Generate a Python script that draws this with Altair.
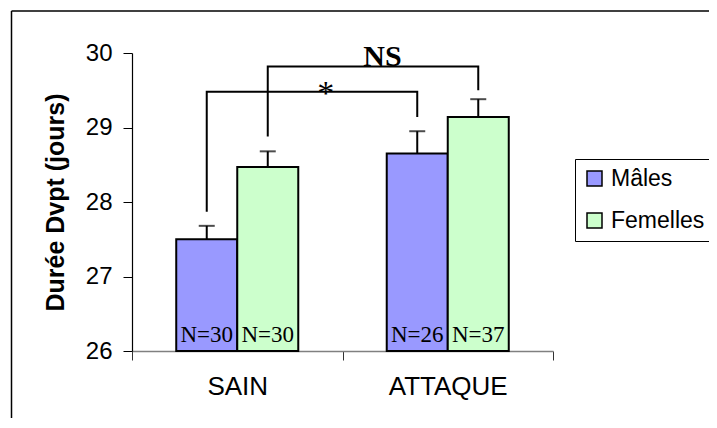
import altair as alt
import pandas as pd

# ---- data ----
categories = ["SAIN", "ATTAQUE"]
series = ["Mâles", "Femelles"]
means_males = [27.50, 28.65]
means_females = [28.47, 29.14]
err_males = [0.18, 0.30]
err_females = [0.21, 0.24]
n_males = [30, 26]
n_females = [30, 37]
colors = ["#9999FF", "#CCFFCC"]

# significance brackets: label, series of both ends, left low end, top, right low end
bracket_labels = ["*", "NS"]
bracket_series = ["Mâles", "Femelles"]
bracket_left_low = [27.87, 28.88]
bracket_top = [29.48, 29.82]
bracket_right_low = [29.14, 29.50]

# ---- tables ----
rows = []
for i, c in enumerate(categories):
    for s, m, e, n in ((series[0], means_males, err_males, n_males),
                       (series[1], means_females, err_females, n_females)):
        rows.append({"cat": c, "sex": s, "mean": m[i], "upper": m[i] + e[i], "n": f"N={n[i]}"})
df = pd.DataFrame(rows)

brows = []
for b, s, lo, top, ro in zip(bracket_labels, bracket_series, bracket_left_low, bracket_top, bracket_right_low):
    brows += [
        {"b": b, "cat": categories[0], "sex": s, "y": lo, "i": 0},
        {"b": b, "cat": categories[0], "sex": s, "y": top, "i": 1},
        {"b": b, "cat": categories[1], "sex": s, "y": top, "i": 2},
        {"b": b, "cat": categories[1], "sex": s, "y": ro, "i": 3},
    ]
bdf = pd.DataFrame(brows)

star_df = pd.DataFrame([{"cat": categories[0], "y": bracket_top[0], "t": bracket_labels[0]}])
ns_df = pd.DataFrame([{"cat": categories[1], "y": bracket_top[1], "t": bracket_labels[1]}])

# ---- shared encodings ----
x_scale = alt.Scale(domain=categories, paddingInner=0, paddingOuter=0)
x_axis = alt.Axis(title=None, tickBand="extent", grid=False, labelFont="Liberation Sans", labelFontSize=26,
                  labelColor="black", labelPadding=13, tickSize=9, tickColor="#333333",
                  domainColor="#808080", domainWidth=1.5, labelAngle=0)
X = alt.X("cat:N", sort=categories, scale=x_scale, axis=x_axis)
XO = alt.XOffset("sex:N", sort=series, scale=alt.Scale(domain=series, paddingInner=0, paddingOuter=0.725))
y_scale = alt.Scale(domain=[26, 30], nice=False, zero=False)
y_axis = alt.Axis(values=[26, 27, 28, 29, 30], format="d", title="Durée Dvpt (jours)", grid=False,
                  labelFont="Liberation Sans", labelFontSize=24, labelColor="black", labelPadding=11,
                  tickSize=9, tickColor="black", domainColor="black", domainWidth=1.2,
                  titleFont="Liberation Sans", titleFontSize=25, titleFontWeight="bold",
                  titleColor="black", titlePadding=17)

def Y(field):
    return alt.Y(field, scale=y_scale, axis=y_axis)

base = alt.Chart(df)

bars = base.mark_bar(stroke="black", strokeWidth=2).encode(
    x=X, xOffset=XO, y=Y("mean:Q"), y2=alt.datum(26),
    fill=alt.Fill("sex:N", sort=series, scale=alt.Scale(domain=series, range=colors),
                  legend=alt.Legend(title=None, orient="none", legendX=443, legendY=106,
                                    symbolType="square", symbolSize=225,
                                    symbolStrokeColor="black", symbolStrokeWidth=1.5,
                                    labelFont="Liberation Sans", labelFontSize=23,
                                    labelColor="black", strokeColor="black", fillColor="white",
                                    padding=8, rowPadding=18, labelOffset=5)),
)

err = base.mark_rule(color="black", strokeWidth=2).encode(
    x=X, xOffset=XO, y=Y("mean:Q"), y2="upper:Q")

caps = base.mark_tick(color="black", thickness=2, size=16).encode(
    x=X, xOffset=XO, y=Y("upper:Q"))

nlab = base.mark_text(font="Liberation Serif", fontSize=23, baseline="alphabetic", dy=-9,
                      color="black").encode(
    x=X, xOffset=XO, y=alt.datum(26), text="n:N")

brackets = alt.Chart(bdf).mark_line(color="black", strokeWidth=2).encode(
    x=X, xOffset=XO, y=Y("y:Q"), detail="b:N", order="i:Q")

star = alt.Chart(star_df).mark_text(font="Liberation Serif", fontSize=34, baseline="alphabetic",
                                    dy=12, color="black").encode(
    x=alt.X("cat:N", sort=categories, scale=x_scale, axis=x_axis, bandPosition=0.92),
    y=Y("y:Q"), text="t:N")

ns = alt.Chart(ns_df).mark_text(font="Liberation Serif", fontSize=30, fontWeight="bold",
                                baseline="alphabetic", color="black").encode(
    x=alt.X("cat:N", sort=categories, scale=x_scale, axis=x_axis, bandPosition=0.19),
    y=Y("y:Q"), text="t:N")

frame_df = pd.DataFrame([{"k": 0}])
frame_left = alt.Chart(frame_df).mark_rule(color="black", strokeWidth=1.5).encode(
    x=alt.value(-120.5), y=alt.value(-42), y2=alt.value(370))
frame_top = alt.Chart(frame_df).mark_rule(color="black", strokeWidth=1.5).encode(
    x=alt.value(-120.5), x2=alt.value(600), y=alt.value(-42))

chart = alt.layer(bars, err, caps, nlab, brackets, star, ns, frame_left, frame_top).properties(
    width=421, height=298,
    padding={"left": 124, "top": 45, "right": 156, "bottom": 67},
    autosize=alt.AutoSizeParams(type="none"),
    background="white",
).configure_view(stroke=None)

chart.save("out.html", embed_options={"renderer": "svg", "actions": False})
